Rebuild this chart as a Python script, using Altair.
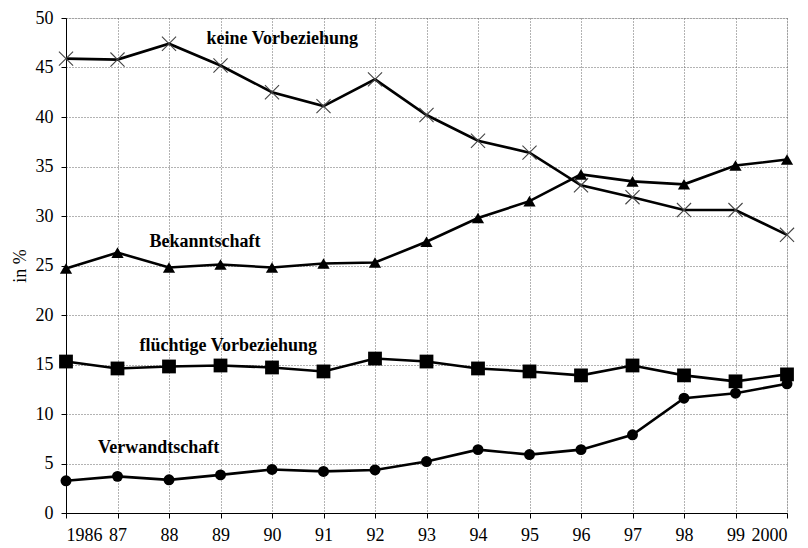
import altair as alt
import pandas as pd

years = list(range(1986, 2001))
keine = [45.9, 45.8, 47.4, 45.2, 42.5, 41.1, 43.8, 40.2, 37.6, 36.4, 33.1, 31.9, 30.6, 30.6, 28.1]
bekannt = [24.7, 26.3, 24.8, 25.1, 24.8, 25.2, 25.3, 27.4, 29.8, 31.5, 34.2, 33.5, 33.2, 35.1, 35.7]
fluechtig = [15.3, 14.6, 14.8, 14.9, 14.7, 14.3, 15.6, 15.3, 14.6, 14.3, 13.9, 14.9, 13.9, 13.3, 14.0]
verwandt = [3.25, 3.7, 3.35, 3.85, 4.4, 4.2, 4.35, 5.2, 6.4, 5.9, 6.4, 7.9, 11.6, 12.1, 13.05]

series_names = ["keine Vorbeziehung", "Bekanntschaft", "flüchtige Vorbeziehung", "Verwandtschaft"]
series_values = [keine, bekannt, fluechtig, verwandt]

label_text = ["keine Vorbeziehung", "Bekanntschaft", "flüchtige Vorbeziehung", "Verwandtschaft"]
label_x = [1990.2, 1988.7, 1989.15, 1987.8]
label_y = [47.9, 27.4, 16.85, 6.6]

rows = []
for name, vals in zip(series_names, series_values):
    for yr, v in zip(years, vals):
        rows.append({"Jahr": yr, "Wert": v, "Serie": name})
df = pd.DataFrame(rows)
labels = pd.DataFrame({"text": label_text, "x": label_x, "y": label_y})

FONT = "Liberation Serif"

x_enc = alt.X(
    "Jahr:Q",
    scale=alt.Scale(domain=[1986, 2000], nice=False, zero=False),
    axis=alt.Axis(
        values=years,
        labelExpr="datum.value == 1986 || datum.value == 2000 ? toString(datum.value) : slice(toString(datum.value), 2)",
        title=None,
        grid=True,
        gridDash=[1, 2],
        gridColor="#666666",
        gridWidth=1,
        domainColor="#000000",
        tickColor="#000000",
        tickSize=5,
        labelFontSize=18,
        labelFont=FONT,
        labelColor="#000000",
        labelPadding=8,
    ),
)
y_enc = alt.Y(
    "Wert:Q",
    scale=alt.Scale(domain=[0, 50], nice=False),
    axis=alt.Axis(
        values=list(range(0, 51, 5)),
        title="in %",
        titleFont=FONT,
        titleFontSize=18,
        titleFontWeight="normal",
        titleColor="#000000",
        titlePadding=6,
        grid=True,
        gridDash=[1, 2],
        gridColor="#666666",
        gridWidth=1,
        domainColor="#000000",
        tickColor="#000000",
        tickSize=5,
        labelFontSize=18,
        labelFont=FONT,
        labelColor="#000000",
        labelPadding=8,
    ),
)

base = alt.Chart(df)

lines = base.mark_line(color="black", strokeWidth=2.6).encode(
    x=x_enc, y=y_enc, detail="Serie:N"
)

cross_pts = base.transform_filter(alt.datum.Serie == "keine Vorbeziehung").mark_point(
    shape="M-1,-1L1,1M-1,1L1,-1", filled=False, stroke="#444444", strokeWidth=1.1, size=200, opacity=1
).encode(x="Jahr:Q", y="Wert:Q")

tri_pts = base.transform_filter(alt.datum.Serie == "Bekanntschaft").mark_point(
    shape="triangle-up", filled=True, color="black", size=150, opacity=1
).encode(x="Jahr:Q", y="Wert:Q")

sq_pts = base.transform_filter(alt.datum.Serie == "flüchtige Vorbeziehung").mark_point(
    shape="square", filled=True, color="black", size=190, opacity=1
).encode(x="Jahr:Q", y="Wert:Q")

circ_pts = base.transform_filter(alt.datum.Serie == "Verwandtschaft").mark_point(
    shape="circle", filled=True, color="black", size=120, opacity=1
).encode(x="Jahr:Q", y="Wert:Q")

text = alt.Chart(labels).mark_text(
    font=FONT, fontSize=18, fontWeight="bold", color="black", align="center", baseline="middle"
).encode(x="x:Q", y="y:Q", text="text:N")

chart = alt.layer(lines, cross_pts, tri_pts, sq_pts, circ_pts, text).properties(
    width=721,
    height=495,
    autosize=alt.AutoSizeParams(type="none"),
    padding={"left": 58, "top": 10, "right": 12, "bottom": 30},
).configure_view(stroke=None).configure(background="white")

chart.save("out.html", embed_options={"renderer": "svg", "actions": False})
